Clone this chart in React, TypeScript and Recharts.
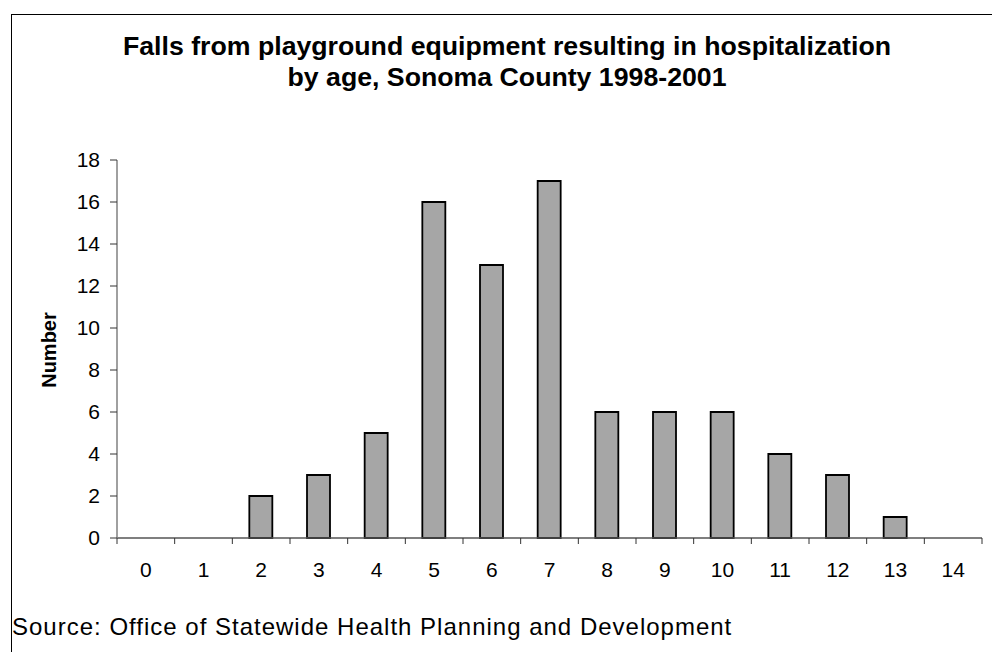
import { BarChart, Bar, XAxis, YAxis } from 'recharts'

const ages = ['0', '1', '2', '3', '4', '5', '6', '7', '8', '9', '10', '11', '12', '13', '14']
const falls = [0, 0, 2, 3, 5, 16, 13, 17, 6, 6, 6, 4, 3, 1, 0]
const yTicks = [0, 2, 4, 6, 8, 10, 12, 14, 16, 18]

const titleLines = [
  'Falls from playground equipment resulting in hospitalization',
  'by age, Sonoma County 1998-2001',
]
const sourceNote = 'Source: Office of Statewide Health Planning and Development'

const FONT = '"Liberation Sans", Arial, sans-serif'
const W = 992
const H = 652
const MARGIN = { top: 160, right: 10, bottom: 54, left: 17 }
const Y_AXIS_W = 100
const TICK_SIZE = 6
const TICK_MARGIN = 18
const BAND = (W - MARGIN.left - MARGIN.right - Y_AXIS_W) / ages.length

const data = ages.map((age, i) => ({ age, falls: falls[i] }))

// category labels sit mid-band, tick marks go on the band edges
function AgeTick(props: any) {
  const { x, y, payload, index } = props
  const y0 = y - TICK_SIZE - TICK_MARGIN
  const left = x - BAND / 2
  const right = x + BAND / 2
  return (
    <g>
      <line x1={left} x2={left} y1={y0} y2={y0 + TICK_SIZE} stroke="#333" strokeWidth={1} />
      {index === ages.length - 1 && (
        <line x1={right} x2={right} y1={y0} y2={y0 + TICK_SIZE} stroke="#333" strokeWidth={1} />
      )}
      <text x={x} y={y} dy="0.71em" textAnchor="middle" fill="#000" fontSize={21} fontFamily={FONT}>
        {payload.value}
      </text>
    </g>
  )
}

export default function App() {
  return (
    <div
      style={{
        position: 'absolute',
        left: 0,
        top: 0,
        width: W,
        height: H,
        overflow: 'hidden',
        background: '#fff',
        fontFamily: FONT,
      }}
    >
      <div
        style={{
          position: 'absolute',
          left: 11,
          top: 14,
          width: W + 20,
          height: H + 20,
          border: '1.5px solid #000',
        }}
      />
      <div
        style={{
          position: 'absolute',
          left: 7,
          top: 31,
          width: 1000,
          textAlign: 'center',
          fontWeight: 'bold',
          fontSize: 26.7,
          lineHeight: '31px',
          color: '#000',
        }}
      >
        {titleLines.map((t) => (
          <div key={t}>{t}</div>
        ))}
      </div>
      <BarChart width={W} height={H} data={data} margin={MARGIN} barCategoryGap={0}>
        <XAxis
          dataKey="age"
          tick={<AgeTick />}
          tickLine={false}
          tickSize={TICK_SIZE}
          tickMargin={TICK_MARGIN}
          axisLine={{ stroke: '#555', strokeWidth: 1.5 }}
          height={60}
          interval={0}
        />
        <YAxis
          width={Y_AXIS_W}
          domain={[0, 18]}
          ticks={yTicks}
          interval={0}
          tickSize={7}
          tickMargin={10}
          tick={{ fill: '#000', fontSize: 21, fontFamily: FONT }}
          tickLine={{ stroke: '#333' }}
          axisLine={{ stroke: '#808080', strokeWidth: 1.5 }}
        />
        <Bar
          dataKey="falls"
          fill="#A6A6A6"
          stroke="#000"
          strokeWidth={1.8}
          barSize={23}
          isAnimationActive={false}
        />
      </BarChart>
      <div
        style={{
          position: 'absolute',
          left: 49,
          top: 350,
          transform: 'translate(-50%, -50%) rotate(-90deg)',
          fontWeight: 'bold',
          fontSize: 20,
          color: '#000',
          whiteSpace: 'nowrap',
        }}
      >
        Number
      </div>
      <div
        style={{
          position: 'absolute',
          left: 12,
          top: 615,
          fontSize: 24,
          lineHeight: '24px',
          letterSpacing: 1,
          color: '#000',
          whiteSpace: 'nowrap',
        }}
      >
        {sourceNote}
      </div>
    </div>
  )
}
